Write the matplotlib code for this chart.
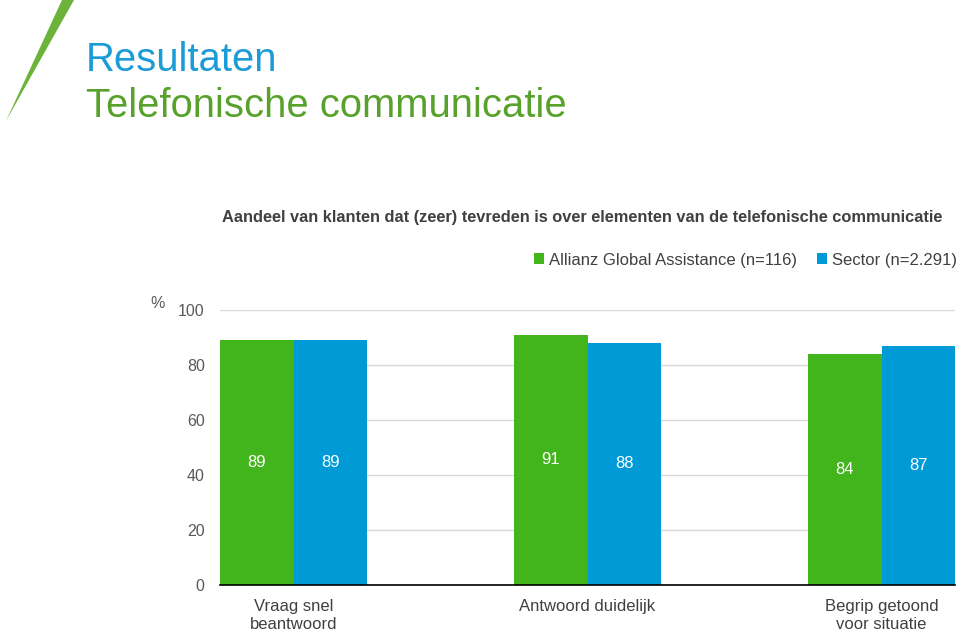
import numpy as np
import matplotlib
matplotlib.use("Agg")
import matplotlib.pyplot as plt
from matplotlib.patches import Polygon

plt.rcParams['font.family'] = ['Liberation Sans', 'DejaVu Sans']

# data
categories = ["Vraag snel\nbeantwoord", "Antwoord duidelijk", "Begrip getoond\nvoor situatie"]
allianz = [89, 91, 84]
sector = [89, 88, 87]
series_names = ["Allianz Global Assistance (n=116)", "Sector (n=2.291)"]
yticks = [0, 20, 40, 60, 80, 100]

green = "#43b51c"
blue = "#009bd7"
txt = "#404040"

fig = plt.figure(figsize=(9.6, 6.31), dpi=100)

# slide header
fig.text(86 / 960, 1 - 60 / 631, "Resultaten", color="#1b9bd7", fontsize=28.8,
         va="center", ha="left")
fig.text(86 / 960, 1 - 106 / 631, "Telefonische communicatie", color="#58a22c",
         fontsize=28.8, va="center", ha="left")

# green slash decoration
slash = Polygon([(62 / 960, 1.0), (74 / 960, 1.0), (6 / 960, 1 - 121 / 631)],
                closed=True, transform=fig.transFigure, color="#6cb33a", lw=0)
fig.patches.append(slash)

fig.text(582 / 960, 1 - 218 / 631,
         "Aandeel van klanten dat (zeer) tevreden is over elementen van de telefonische communicatie",
         fontsize=11.8, fontweight="bold", color=txt, ha="center", va="center")

ax = fig.add_axes([220 / 960, 1 - 585 / 631, 735 / 960, 275 / 631])
x = np.arange(len(categories))
w = 0.25
b1 = ax.bar(x - w / 2, allianz, w, color=green, label=series_names[0], zorder=2)
b2 = ax.bar(x + w / 2, sector, w, color=blue, label=series_names[1], zorder=2)

for bars, vals in [(b1, allianz), (b2, sector)]:
    for bar, v in zip(bars, vals):
        ax.text(bar.get_x() + bar.get_width() / 2, v / 2, str(v), color="white",
                fontsize=12, ha="center", va="center", zorder=3)

ax.set_xlim(-0.25, 2.25)
ax.set_ylim(0, 100)
ax.set_yticks(yticks)
ax.set_xticks(x)
ax.set_xticklabels(categories, fontsize=12, color=txt, linespacing=1.3)
ax.tick_params(axis="y", length=0, pad=11, labelsize=11.5, labelcolor="#595959")
ax.tick_params(axis="x", length=0, pad=10)
ax.grid(axis="y", color="#d9d9d9", lw=1, zorder=0)
for s in ["top", "right", "left"]:
    ax.spines[s].set_visible(False)
ax.spines["bottom"].set_color("black")
ax.spines["bottom"].set_linewidth(1.2)

fig.text(158 / 960, 1 - 303 / 631, "%", fontsize=11.5, color="#595959",
         ha="center", va="center")

leg = fig.legend(handles=[b1, b2], loc="center right",
                 bbox_to_anchor=(972 / 960, 1 - 260 / 631), ncol=2, frameon=False,
                 fontsize=12, handlelength=0.6, handleheight=0.6, handletextpad=0.3,
                 columnspacing=1.2, labelcolor=txt)

fig.savefig("out.png", dpi=100)
